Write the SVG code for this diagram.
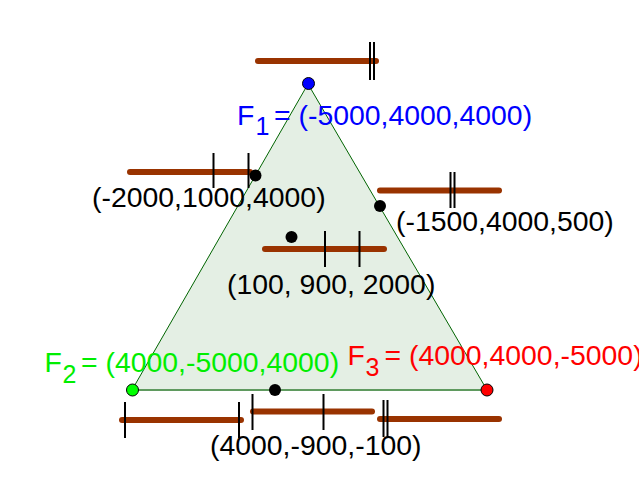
<svg xmlns="http://www.w3.org/2000/svg" width="639" height="488" viewBox="0 0 639 488">
<style>
.bar{stroke:#993300;stroke-width:6;stroke-linecap:round;fill:none}
.tick{stroke:#000;stroke-width:2;fill:none}
.edge{stroke:#006400;stroke-width:1;fill:none}
.pt{stroke:#000;stroke-width:1}
text{font-family:"Liberation Sans",Arial,sans-serif;font-size:28.4px}
.sub{font-size:25px}
</style>
<rect width="639" height="488" fill="#fff"/>
<g id="triangle">
<polygon points="308,84 132,390 487,390" fill="#e4efe4" stroke="none"/>
<line class="edge" x1="308" y1="84" x2="132" y2="390"/>
<line class="edge" x1="308" y1="84" x2="487" y2="390"/>
<line x1="132" y1="390" x2="487" y2="390" stroke="#5f9a5f" stroke-width="2"/>
</g>
<g id="connectors">
<line class="bar" x1="258" y1="61" x2="376" y2="61"/>
<line class="tick" x1="370" y1="42" x2="370" y2="80"/>
<line class="tick" x1="374" y1="42" x2="374" y2="80"/>
<line class="bar" x1="130" y1="172" x2="250" y2="172"/>
<line class="tick" x1="213.5" y1="153" x2="213.5" y2="188"/>
<line class="tick" x1="248.5" y1="153" x2="248.5" y2="188"/>
<line class="bar" x1="380" y1="190.5" x2="499" y2="190.5"/>
<line class="tick" x1="450.5" y1="172" x2="450.5" y2="208"/>
<line class="tick" x1="454.5" y1="172" x2="454.5" y2="208"/>
<line class="bar" x1="265" y1="249" x2="384" y2="249"/>
<line class="tick" x1="325" y1="231" x2="325" y2="267"/>
<line class="tick" x1="359.5" y1="231" x2="359.5" y2="267"/>
<line class="bar" x1="122" y1="420" x2="241" y2="420"/>
<line class="tick" x1="125" y1="402" x2="125" y2="438"/>
<line class="tick" x1="239" y1="402" x2="239" y2="438"/>
<line class="bar" x1="253" y1="411.5" x2="372" y2="411.5"/>
<line class="tick" x1="252.5" y1="394" x2="252.5" y2="430"/>
<line class="tick" x1="323.5" y1="394" x2="323.5" y2="430"/>
<line class="bar" x1="380" y1="419" x2="499" y2="419"/>
<line class="tick" x1="383.5" y1="400" x2="383.5" y2="437"/>
<line class="tick" x1="387.5" y1="400" x2="387.5" y2="437"/>
</g>
<g id="F1">
<circle class="pt" cx="308.5" cy="83.5" r="6" fill="#0000ff"/>
<text x="237" y="125" fill="#0000ff">F</text>
<text class="sub" x="255.5" y="135" fill="#0000ff">1</text>
<text x="274" y="125" fill="#0000ff">= (-5000,4000,4000)</text>
</g>
<g id="F2">
<circle class="pt" cx="132.5" cy="390" r="6" fill="#00ff00"/>
<text x="44.5" y="372" fill="#00ee00">F</text>
<text class="sub" x="62.5" y="383" fill="#00ee00">2</text>
<text x="81" y="372" fill="#00ee00">= (4000,-5000,4000)</text>
</g>
<g id="F3">
<circle class="pt" cx="487" cy="390" r="6" fill="#ff0000"/>
<text x="347.5" y="365" fill="#ff0000">F</text>
<text class="sub" x="365.5" y="376" fill="#ff0000">3</text>
<text x="384.5" y="365" fill="#ff0000">= (4000,4000,-5000)</text>
</g>
<g id="P1">
<circle cx="255.5" cy="175.5" r="6" fill="#000"/>
<text x="92" y="207" fill="#000">(-2000,1000,4000)</text>
</g>
<g id="P2">
<circle cx="380" cy="206" r="6" fill="#000"/>
<text x="396" y="231" fill="#000">(-1500,4000,500)</text>
</g>
<g id="P3">
<circle cx="291.5" cy="237" r="6" fill="#000"/>
<text x="227" y="294" fill="#000">(100, 900, 2000)</text>
</g>
<g id="P4">
<circle cx="275" cy="390" r="6" fill="#000"/>
<text x="210" y="455" fill="#000">(4000,-900,-100)</text>
</g>
</svg>
